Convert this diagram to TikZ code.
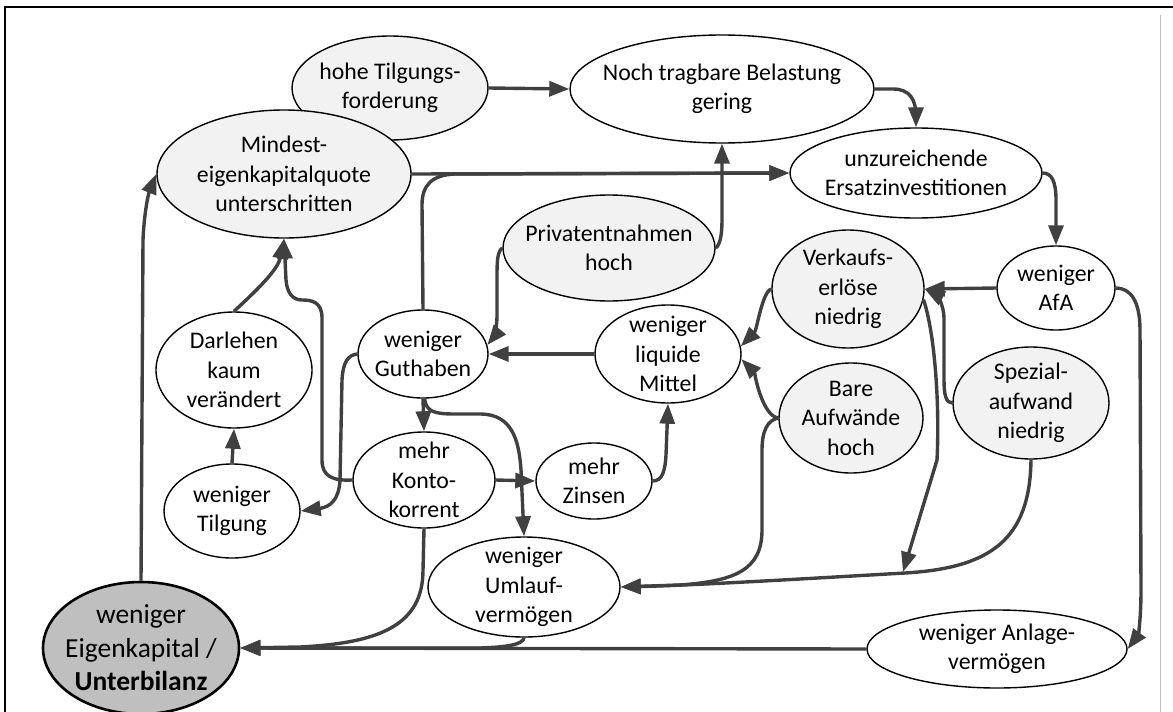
\documentclass[tikz,border=0pt]{standalone}
\usepackage{fontspec}
\setmainfont{Carlito}
\usetikzlibrary{shapes.geometric,arrows.meta}
\definecolor{linegray}{HTML}{404040}
\definecolor{lightfill}{HTML}{F2F2F2}
\definecolor{darkfill}{HTML}{BFBFBF}

\begin{document}
\begin{tikzpicture}[x=1pt,y=-1pt,
  bubble/.style={ellipse, draw=black, line width=1.4pt, fill=white, inner sep=0pt},
  shaded/.style={bubble, fill=lightfill},
  wh/.style 2 args={minimum width=#1pt, minimum height=#2pt},
  txt/.style={align=center, inner sep=0pt, font=\fontsize{23.8}{29.5}\selectfont},
  bigtxt/.style={align=center, inner sep=0pt, font=\fontsize{27.5}{33.5}\selectfont},
  conn/.style={draw=linegray, line width=3.4pt, -{Triangle[length=20pt,width=15pt]}},
]
\useasboundingbox (0,0) rectangle (1173,712);

% frame
\draw[line width=2.6pt] (5,712) -- (5,7) -- (1173,7);
\draw[black!25, line width=0.8pt] (1160,15) -- (1160,712);

% ellipses
\node[shaded, wh={196}{104}] (hohe)  at (390,88)  {};
\node[bubble, wh={304}{108}] (noch)  at (722,89)  {};
\node[shaded, wh={254}{128}] (mind)  at (284,174) {};
\node[bubble, wh={252}{90}]  (unz)   at (916,173) {};
\node[shaded, wh={212}{106}] (priv)  at (609,248) {};
\node[shaded, wh={152}{118}] (verk)  at (848,289) {};
\node[bubble, wh={118}{84}]  (afa)   at (1056,288) {};
\node[bubble, wh={146}{98}]  (liq)   at (668,354) {};
\node[bubble, wh={130}{88}]  (guth)  at (423,354) {};
\node[bubble, wh={156}{116}] (darl)  at (234,370) {};
\node[shaded, wh={144}{110}] (bare)  at (851,418) {};
\node[shaded, wh={156}{112}] (spez)  at (1031,403) {};
\node[bubble, wh={142}{96}]  (konto) at (424,480) {};
\node[bubble, wh={116}{76}]  (zins)  at (594,481) {};
\node[bubble, wh={136}{94}]  (tilg)  at (232,511) {};
\node[bubble, wh={192}{100}] (uml)   at (524,587) {};
\node[bubble, wh={260}{78}]  (anl)   at (997,649) {};
\node[ellipse, draw=black, line width=2.6pt, fill=darkfill, inner sep=0pt, wh={196}{132}] (eig) at (141,648) {};

% texts
\node[txt] (t-hohe)  at (hohe)  {hohe Tilgungs-\\forderung};
\node[txt] (t-noch)  at (noch)  {Noch tragbare Belastung\\gering};
\node[txt] (t-mind)  at (mind)  {Mindest-\\eigenkapitalquote\\unterschritten};
\node[txt] (t-unz)   at (unz)   {unzureichende\\Ersatzinvestitionen};
\node[txt] (t-priv)  at (priv)  {Privatentnahmen\\hoch};
\node[txt] (t-verk)  at (verk)  {Verkaufs-\\erlöse\\niedrig};
\node[txt] (t-afa)   at (afa)   {weniger\\AfA};
\node[txt] (t-liq)   at (liq)   {weniger\\liquide\\Mittel};
\node[txt] (t-guth)  at (guth)  {weniger\\Guthaben};
\node[txt] (t-darl)  at (darl)  {Darlehen\\kaum\\verändert};
\node[txt] (t-bare)  at (bare)  {Bare\\Aufwände\\hoch};
\node[txt] (t-spez)  at (spez)  {Spezial-\\aufwand\\niedrig};
\node[txt] (t-konto) at (konto) {mehr\\Konto-\\korrent};
\node[txt] (t-zins)  at (zins)  {mehr\\Zinsen};
\node[txt] (t-tilg)  at (tilg)  {weniger\\Tilgung};
\node[txt] (t-uml)   at (uml)   {weniger\\Umlauf-\\vermögen};
\node[txt] (t-anl)   at (anl)   {weniger Anlage-\\vermögen};
\node[bigtxt] (t-eig) at (eig)  {weniger\\Eigenkapital /\\\textbf{Unterbilanz}};

% points where a connector ends on another connector
\coordinate (onbottom) at (903,572);

% connectors
\draw[conn] (hohe.east) -- (noch.west);
\draw[conn] (noch.east) -- (893,89) .. controls (910,89) and (916,100) .. (916,116) -- (unz.north);
\draw[conn] (mind.east) -- (unz.west);
\draw[conn] (unz.east) .. controls (1052,173) and (1056,182) .. (1056,200) -- (afa.north);
\draw[conn] (afa.west) -- (verk.east);
\draw[conn] (spez.west) .. controls (946,403) and (944,395) .. (944,380) -- (944,318) .. controls (944,305) and (936,295) .. (verk.east);
\draw[conn] (verk.-8) .. controls (934,330) and (940,400) .. (937,460) -- (onbottom);
\draw[conn] (spez.south) .. controls (1030,540) and (990,568) .. (905,573) .. controls (800,579) and (700,585) .. (uml.east);
\draw[conn] (bare.west) .. controls (768,420) and (762,430) .. (762,450) -- (762,530) .. controls (762,570) and (735,581) .. (680,585) -- (uml.east);
\draw[conn] (bare.west) .. controls (762,416) and (754,372) .. (liq.-4);
\draw[conn] (verk.west) .. controls (762,292) and (757,330) .. (liq.6);
\draw[conn] (liq.west) -- (guth.east);
\draw[conn] (priv.west) .. controls (497,252) and (497,262) .. (497,280) -- (497,315) .. controls (497,330) and (493,338) .. (guth.8);
\draw[conn] (priv.east) .. controls (720,245) and (722,235) .. (722,220) -- (noch.south);
\draw[conn] (guth.north) -- (422,205) .. controls (422,185) and (432,175) .. (455,174) -- (unz.west);
\draw[conn] (guth.south) -- (konto.north);
\draw[conn] (guth.-88) .. controls (426,412) and (435,414) .. (455,414) -- (480,414) .. controls (512,414) and (519,440) .. (521,470) -- (uml.north);
\draw[conn] (guth.west) .. controls (348,355) and (343,362) .. (342,380) -- (340,480) .. controls (339,500) and (330,507) .. (tilg.east);
\draw[conn] (konto.west) .. controls (332,481) and (322,476) .. (322,460) -- (322,318) .. controls (322,302) and (312,300) .. (302,300) .. controls (292,300) and (287,292) .. (286,280) -- (mind.south);
\draw[conn] (darl.north) .. controls (255,292) and (278,270) .. (mind.south);
\draw[conn] (tilg.north) -- (darl.south);
\draw[conn] (konto.east) -- (zins.west);
\draw[conn] (zins.east) .. controls (662,481) and (665,472) .. (666,455) -- (liq.south);
\draw[conn] (konto.south) -- (423,570) .. controls (423,625) and (380,643) .. (300,647) -- (eig.east);
\draw[conn] (uml.south) .. controls (523,644) and (510,647) .. (480,648) -- (eig.east);
\draw[conn] (anl.west) -- (eig.east);
\draw[conn] (afa.east) .. controls (1130,288) and (1140,300) .. (1140,330) -- (1141,590) .. controls (1141,620) and (1138,635) .. (anl.east);
\draw[conn] (eig.north) -- (143,240) .. controls (144,215) and (148,195) .. (mind.west);
\end{tikzpicture}
\end{document}
